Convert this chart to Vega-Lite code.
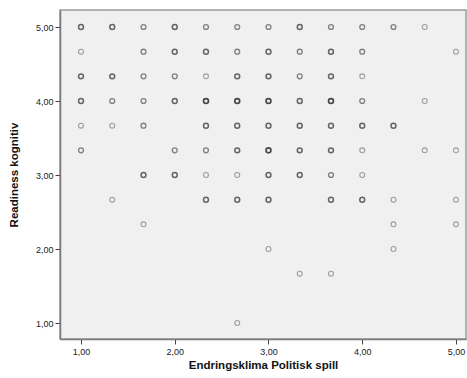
{
  "$schema": "https://vega.github.io/schema/vega-lite/v6.json",
  "width": 406,
  "height": 329,
  "autosize": {"type": "none"},
  "padding": {"left": 60, "top": 10, "right": 1, "bottom": 39},
  "background": "white",
  "config": {
    "font": "Liberation Sans",
    "view": {"fill": "#f0f0f0", "stroke": "#9a9a9a", "strokeWidth": 1.5},
    "axis": {
      "grid": false,
      "domainColor": "#7a7a7a",
      "domainWidth": 1.5,
      "tickColor": "#444444",
      "tickSize": 5,
      "tickWidth": 1,
      "labelColor": "#222222",
      "labelFontSize": 9,
      "labelFont": "Liberation Sans",
      "titleFont": "Liberation Sans",
      "titleFontSize": 11.5,
      "titleFontWeight": "bold",
      "titleColor": "#111111"
    }
  },
  "data": {
    "values": [
      {"politisk": 1, "kognitiv": 5, "n": 3},
      {"politisk": 1.3333, "kognitiv": 5, "n": 3},
      {"politisk": 1.6667, "kognitiv": 5, "n": 2},
      {"politisk": 2, "kognitiv": 5, "n": 3},
      {"politisk": 2.3333, "kognitiv": 5, "n": 2},
      {"politisk": 2.6667, "kognitiv": 5, "n": 2},
      {"politisk": 3, "kognitiv": 5, "n": 2},
      {"politisk": 3.3333, "kognitiv": 5, "n": 3},
      {"politisk": 3.6667, "kognitiv": 5, "n": 2},
      {"politisk": 4, "kognitiv": 5, "n": 2},
      {"politisk": 4.3333, "kognitiv": 5, "n": 2},
      {"politisk": 4.6667, "kognitiv": 5, "n": 1},

      {"politisk": 1, "kognitiv": 4.6667, "n": 1},
      {"politisk": 1.6667, "kognitiv": 4.6667, "n": 2},
      {"politisk": 2, "kognitiv": 4.6667, "n": 3},
      {"politisk": 2.3333, "kognitiv": 4.6667, "n": 3},
      {"politisk": 2.6667, "kognitiv": 4.6667, "n": 2},
      {"politisk": 3, "kognitiv": 4.6667, "n": 3},
      {"politisk": 3.3333, "kognitiv": 4.6667, "n": 2},
      {"politisk": 3.6667, "kognitiv": 4.6667, "n": 3},
      {"politisk": 4, "kognitiv": 4.6667, "n": 2},
      {"politisk": 5, "kognitiv": 4.6667, "n": 1},

      {"politisk": 1, "kognitiv": 4.3333, "n": 3},
      {"politisk": 1.3333, "kognitiv": 4.3333, "n": 3},
      {"politisk": 1.6667, "kognitiv": 4.3333, "n": 2},
      {"politisk": 2, "kognitiv": 4.3333, "n": 2},
      {"politisk": 2.3333, "kognitiv": 4.3333, "n": 1},
      {"politisk": 2.6667, "kognitiv": 4.3333, "n": 3},
      {"politisk": 3, "kognitiv": 4.3333, "n": 3},
      {"politisk": 3.3333, "kognitiv": 4.3333, "n": 2},
      {"politisk": 3.6667, "kognitiv": 4.3333, "n": 3},
      {"politisk": 4, "kognitiv": 4.3333, "n": 1},

      {"politisk": 1, "kognitiv": 4, "n": 3},
      {"politisk": 1.3333, "kognitiv": 4, "n": 2},
      {"politisk": 1.6667, "kognitiv": 4, "n": 2},
      {"politisk": 2, "kognitiv": 4, "n": 3},
      {"politisk": 2.3333, "kognitiv": 4, "n": 4},
      {"politisk": 2.6667, "kognitiv": 4, "n": 4},
      {"politisk": 3, "kognitiv": 4, "n": 4},
      {"politisk": 3.3333, "kognitiv": 4, "n": 3},
      {"politisk": 3.6667, "kognitiv": 4, "n": 4},
      {"politisk": 4, "kognitiv": 4, "n": 2},
      {"politisk": 4.6667, "kognitiv": 4, "n": 1},

      {"politisk": 1, "kognitiv": 3.6667, "n": 1},
      {"politisk": 1.3333, "kognitiv": 3.6667, "n": 1},
      {"politisk": 1.6667, "kognitiv": 3.6667, "n": 2},
      {"politisk": 2.3333, "kognitiv": 3.6667, "n": 3},
      {"politisk": 2.6667, "kognitiv": 3.6667, "n": 3},
      {"politisk": 3, "kognitiv": 3.6667, "n": 3},
      {"politisk": 3.3333, "kognitiv": 3.6667, "n": 3},
      {"politisk": 3.6667, "kognitiv": 3.6667, "n": 3},
      {"politisk": 4, "kognitiv": 3.6667, "n": 3},
      {"politisk": 4.3333, "kognitiv": 3.6667, "n": 3},

      {"politisk": 1, "kognitiv": 3.3333, "n": 2},
      {"politisk": 2, "kognitiv": 3.3333, "n": 2},
      {"politisk": 2.3333, "kognitiv": 3.3333, "n": 2},
      {"politisk": 2.6667, "kognitiv": 3.3333, "n": 3},
      {"politisk": 3, "kognitiv": 3.3333, "n": 4},
      {"politisk": 3.3333, "kognitiv": 3.3333, "n": 3},
      {"politisk": 3.6667, "kognitiv": 3.3333, "n": 3},
      {"politisk": 4, "kognitiv": 3.3333, "n": 1},
      {"politisk": 4.6667, "kognitiv": 3.3333, "n": 1},
      {"politisk": 5, "kognitiv": 3.3333, "n": 1},

      {"politisk": 1.6667, "kognitiv": 3, "n": 3},
      {"politisk": 2, "kognitiv": 3, "n": 3},
      {"politisk": 2.3333, "kognitiv": 3, "n": 1},
      {"politisk": 2.6667, "kognitiv": 3, "n": 1},
      {"politisk": 3, "kognitiv": 3, "n": 3},
      {"politisk": 3.3333, "kognitiv": 3, "n": 3},
      {"politisk": 3.6667, "kognitiv": 3, "n": 2},
      {"politisk": 4, "kognitiv": 3, "n": 1},

      {"politisk": 1.3333, "kognitiv": 2.6667, "n": 1},
      {"politisk": 2.3333, "kognitiv": 2.6667, "n": 3},
      {"politisk": 2.6667, "kognitiv": 2.6667, "n": 3},
      {"politisk": 3, "kognitiv": 2.6667, "n": 3},
      {"politisk": 3.6667, "kognitiv": 2.6667, "n": 3},
      {"politisk": 4, "kognitiv": 2.6667, "n": 3},
      {"politisk": 4.3333, "kognitiv": 2.6667, "n": 1},
      {"politisk": 5, "kognitiv": 2.6667, "n": 1},

      {"politisk": 1.6667, "kognitiv": 2.3333, "n": 1},
      {"politisk": 4.3333, "kognitiv": 2.3333, "n": 1},
      {"politisk": 5, "kognitiv": 2.3333, "n": 1},

      {"politisk": 3, "kognitiv": 2, "n": 1},
      {"politisk": 4.3333, "kognitiv": 2, "n": 1},

      {"politisk": 3.3333, "kognitiv": 1.6667, "n": 1},
      {"politisk": 3.6667, "kognitiv": 1.6667, "n": 1},

      {"politisk": 2.6667, "kognitiv": 1, "n": 1}
    ]
  },
  "mark": {"type": "point", "shape": "circle", "filled": false, "size": 24, "strokeWidth": 1.3},
  "encoding": {
    "x": {
      "field": "politisk",
      "type": "quantitative",
      "title": "Endringsklima Politisk spill",
      "scale": {"domain": [0.776, 5.107], "nice": false, "zero": false},
      "axis": {
        "values": [1, 2, 3, 4, 5],
        "labelExpr": "replace(format(datum.value, '.2f'), '.', ',')",
        "titlePadding": 3,
        "labelPadding": 3
      }
    },
    "y": {
      "field": "kognitiv",
      "type": "quantitative",
      "title": "Readiness kognitiv",
      "scale": {"domain": [0.784, 5.23], "nice": false, "zero": false},
      "axis": {
        "values": [1, 2, 3, 4, 5],
        "labelExpr": "replace(format(datum.value, '.2f'), '.', ',')",
        "titlePadding": 16,
        "labelPadding": 2
      }
    },
    "stroke": {
      "field": "n",
      "type": "quantitative",
      "scale": {"domain": [1, 4], "range": ["#7c7c7c", "#000000"]},
      "legend": null
    },
    "strokeWidth": {
      "field": "n",
      "type": "quantitative",
      "scale": {"domain": [1, 4], "range": [1.1, 1.7]},
      "legend": null
    }
  }
}
